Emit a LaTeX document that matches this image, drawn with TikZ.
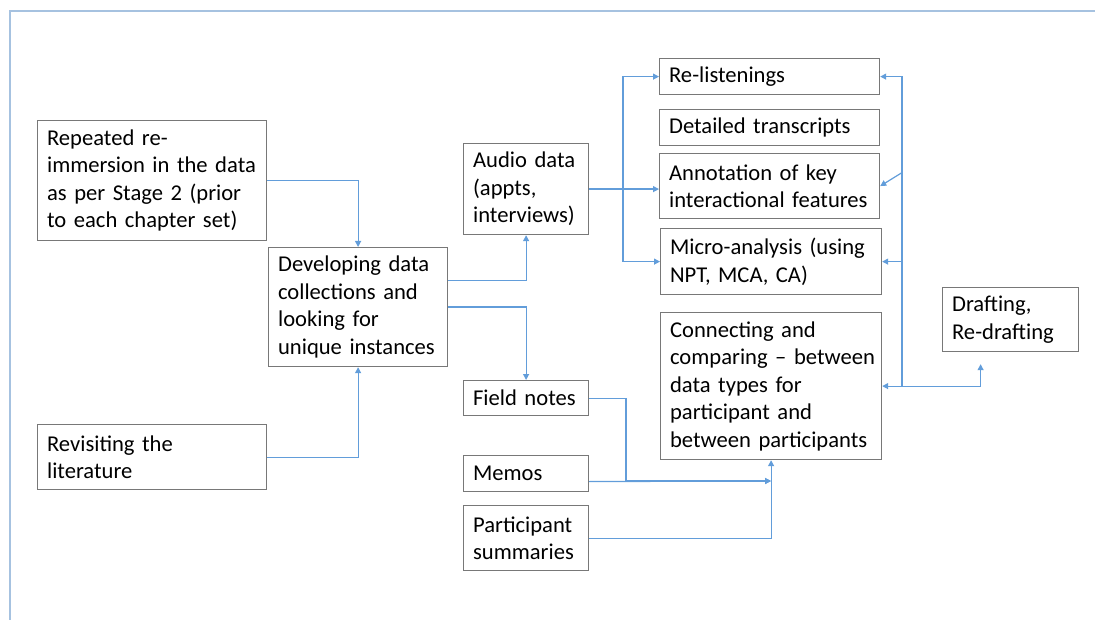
\documentclass[tikz,border=0pt]{standalone}
\usepackage{fontspec}
\setmainfont{Carlito}
\usetikzlibrary{arrows.meta,calc}
\definecolor{linkblue}{RGB}{98,157,218}
\definecolor{framebl}{RGB}{166,194,224}
\definecolor{boxgray}{RGB}{120,120,120}
\begin{document}
\begin{tikzpicture}[x=1pt,y=-1pt,
  box/.style={draw=boxgray, line width=1.2pt, rectangle, anchor=north west,
    inner xsep=9.5pt, inner ysep=0pt, align=left,
    font=\fontsize{22.6}{27.5}\selectfont},
  conn/.style={draw=linkblue, line width=1.2pt},
  tip/.style={-{Triangle[length=6pt,width=6pt]}},
  tips/.style={{Triangle[length=6pt,width=6pt]}-{Triangle[length=6pt,width=6pt]}}]
\useasboundingbox (0,0) rectangle (1095,620);
% page frame
\draw[framebl, line width=2pt] (1095,11) -- (10,11) -- (10,620);

% left column
\node[box, text width=210pt, minimum height=120pt] (rep) at (37,120)
  {Repeated re-\\immersion in the data\\as per Stage 2 (prior\\to each chapter set)};
\node[box, text width=210pt, minimum height=65pt] (lit) at (37,424)
  {Revisiting the\\literature};
\node[box, text width=160pt, minimum height=119pt] (dev) at (268,247)
  {Developing data\\collections and\\looking for\\unique instances};

% data sources
\node[box, text width=106pt, minimum height=91pt] (aud) at (463,143)
  {Audio data\\(appts,\\interviews)};
\node[box, text width=106pt, minimum height=35pt] (fld) at (463,380) {Field notes};
\node[box, text width=106pt, minimum height=36pt] (mem) at (463,455) {Memos};
\node[box, text width=106pt, minimum height=65pt] (psm) at (463,505)
  {Participant\\summaries};

% analysis steps
\node[box, text width=201pt, minimum height=36pt] (rel) at (659,58) {Re-listenings};
\node[box, text width=201pt, minimum height=36pt] (trn) at (659,109) {Detailed transcripts};
\node[box, text width=201pt, minimum height=65pt] (ann) at (659,153)
  {Annotation of key\\interactional features};
\node[box, text width=202pt, minimum height=66pt] (mic) at (660,228)
  {Micro-analysis (using\\NPT, MCA, CA)};
\node[box, text width=202pt, minimum height=147pt] (cmp) at (660,312)
  {Connecting and\\\mbox{comparing -- between}\\data types for\\participant and\\\mbox{between participants}};
\node[box, text width=117pt, minimum height=64pt] (drf) at (942,287)
  {Drafting,\\Re-drafting};

% bus positions and junctions
\coordinate (lbus) at (623,0);
\coordinate (rbus) at (902,0);
\coordinate (fbus) at (626,0);
\coordinate (join) at (771,481);
\coordinate (dtip) at ($(drf.south)+(-30,12)$);

% connectors
\draw[conn,tip] (rep.east) -| (dev.north);
\draw[conn,tip] (lit.east) -| (dev.south);
\draw[conn,tip] ([yshift=26.5pt]dev.east) -| (aud.south);
\draw[conn,tip] (dev.east) -| (fld.north);

\draw[conn,tip] (aud.east) -- (aud.east -| ann.west);
\draw[conn,tips] (rel.west) -- (rel.west -| lbus) -- (mic.west -| lbus) -- (mic.west);

\draw[conn,tips] (rel.east) -- (rel.east -| rbus) -- (cmp.east -| rbus) -- (cmp.east);
\draw[conn,tip] (mic.east -| rbus) -- (mic.east);
\draw[conn,tip] ($(ann.east)+(21,-13)$) -- (ann.east);
\draw[conn,tip] (cmp.east -| rbus) -| (dtip);

\draw[conn,tip] (fld.east) -- (fld.east -| fbus) -- (fbus |- join) -- (join);
\draw[conn,tip] ([yshift=-8pt]mem.east) -- (join);
\draw[conn,tip] (psm.east) -| (cmp.south);
\end{tikzpicture}
\end{document}
